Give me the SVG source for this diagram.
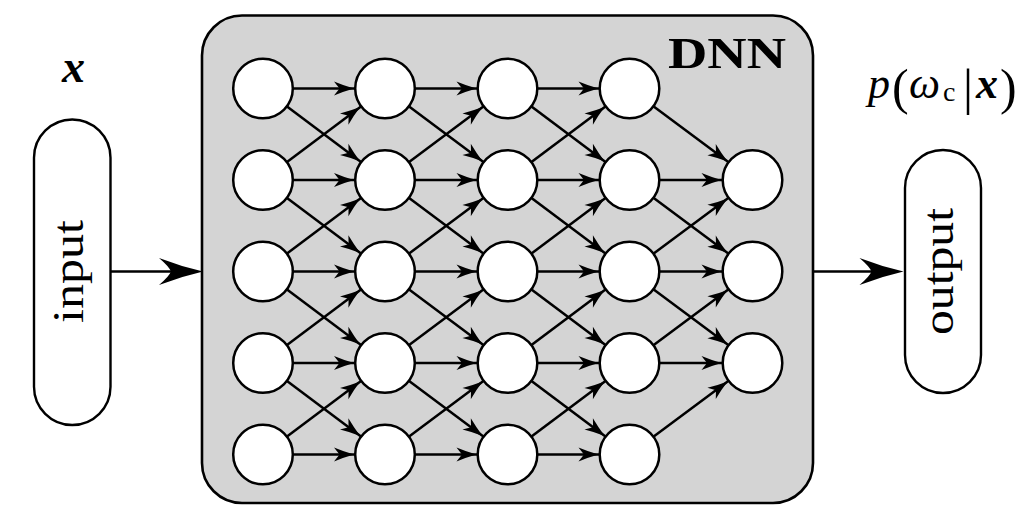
<svg xmlns="http://www.w3.org/2000/svg" width="1022" height="528" viewBox="0 0 1022 528">
<style>
.box{fill:#d4d4d4;stroke:#000;stroke-width:2.6}
.pill{fill:#fff;stroke:#000;stroke-width:2.4}
.n{fill:#fff;stroke:#000;stroke-width:2.5}
.e{stroke:#000;stroke-width:2.5;fill:none;marker-end:url(#sa)}
.big{stroke:#000;stroke-width:2.4;fill:none;marker-end:url(#ba)}
.t{font-family:"Liberation Serif","Times New Roman",serif;fill:#000}
</style>
<defs>
<marker id="sa" markerUnits="userSpaceOnUse" markerWidth="1" markerHeight="1" refX="31" refY="0" orient="auto" overflow="visible">
<path d="M0,0 Q-10,-2.8 -20,-7 L-14.5,0 L-20,7 Q-10,2.8 0,0 Z" fill="#000"/>
</marker>
<marker id="ba" markerUnits="userSpaceOnUse" markerWidth="1" markerHeight="1" refX="-6" refY="0" orient="auto" overflow="visible">
<path d="M0,0 Q-22,-5 -44,-13.5 Q-34,-5 -32,0 Q-34,5 -44,13.5 Q-22,5 0,0 Z" fill="#000"/>
</marker>
</defs>

<g id="dnn">
<rect class="box" x="202" y="15.5" width="611" height="487.5" rx="40" ry="40"/>
<text class="t" x="668" y="68" font-size="45" font-weight="bold" textLength="118" lengthAdjust="spacingAndGlyphs">DNN</text>
</g>

<g id="connectors">
<line class="big" x1="111" y1="271.5" x2="197" y2="271.5"/>
<line class="big" x1="813" y1="271.5" x2="897.5" y2="271.5"/>

<line class="e" x1="263" y1="88.5" x2="385" y2="88.5"/>
<line class="e" x1="263" y1="88.5" x2="385" y2="180"/>
<line class="e" x1="263" y1="180" x2="385" y2="88.5"/>
<line class="e" x1="263" y1="180" x2="385" y2="180"/>
<line class="e" x1="263" y1="180" x2="385" y2="271.5"/>
<line class="e" x1="263" y1="271.5" x2="385" y2="180"/>
<line class="e" x1="263" y1="271.5" x2="385" y2="271.5"/>
<line class="e" x1="263" y1="271.5" x2="385" y2="363"/>
<line class="e" x1="263" y1="363" x2="385" y2="271.5"/>
<line class="e" x1="263" y1="363" x2="385" y2="363"/>
<line class="e" x1="263" y1="363" x2="385" y2="454.5"/>
<line class="e" x1="263" y1="454.5" x2="385" y2="363"/>
<line class="e" x1="263" y1="454.5" x2="385" y2="454.5"/>

<line class="e" x1="385" y1="88.5" x2="507.5" y2="88.5"/>
<line class="e" x1="385" y1="88.5" x2="507.5" y2="180"/>
<line class="e" x1="385" y1="180" x2="507.5" y2="88.5"/>
<line class="e" x1="385" y1="180" x2="507.5" y2="180"/>
<line class="e" x1="385" y1="180" x2="507.5" y2="271.5"/>
<line class="e" x1="385" y1="271.5" x2="507.5" y2="180"/>
<line class="e" x1="385" y1="271.5" x2="507.5" y2="271.5"/>
<line class="e" x1="385" y1="271.5" x2="507.5" y2="363"/>
<line class="e" x1="385" y1="363" x2="507.5" y2="271.5"/>
<line class="e" x1="385" y1="363" x2="507.5" y2="363"/>
<line class="e" x1="385" y1="363" x2="507.5" y2="454.5"/>
<line class="e" x1="385" y1="454.5" x2="507.5" y2="363"/>
<line class="e" x1="385" y1="454.5" x2="507.5" y2="454.5"/>

<line class="e" x1="507.5" y1="88.5" x2="629.5" y2="88.5"/>
<line class="e" x1="507.5" y1="88.5" x2="629.5" y2="180"/>
<line class="e" x1="507.5" y1="180" x2="629.5" y2="88.5"/>
<line class="e" x1="507.5" y1="180" x2="629.5" y2="180"/>
<line class="e" x1="507.5" y1="180" x2="629.5" y2="271.5"/>
<line class="e" x1="507.5" y1="271.5" x2="629.5" y2="180"/>
<line class="e" x1="507.5" y1="271.5" x2="629.5" y2="271.5"/>
<line class="e" x1="507.5" y1="271.5" x2="629.5" y2="363"/>
<line class="e" x1="507.5" y1="363" x2="629.5" y2="271.5"/>
<line class="e" x1="507.5" y1="363" x2="629.5" y2="363"/>
<line class="e" x1="507.5" y1="363" x2="629.5" y2="454.5"/>
<line class="e" x1="507.5" y1="454.5" x2="629.5" y2="363"/>
<line class="e" x1="507.5" y1="454.5" x2="629.5" y2="454.5"/>

<line class="e" x1="629.5" y1="88.5" x2="752.5" y2="180"/>
<line class="e" x1="629.5" y1="180" x2="752.5" y2="180"/>
<line class="e" x1="629.5" y1="180" x2="752.5" y2="271.5"/>
<line class="e" x1="629.5" y1="271.5" x2="752.5" y2="180"/>
<line class="e" x1="629.5" y1="271.5" x2="752.5" y2="271.5"/>
<line class="e" x1="629.5" y1="271.5" x2="752.5" y2="363"/>
<line class="e" x1="629.5" y1="363" x2="752.5" y2="271.5"/>
<line class="e" x1="629.5" y1="363" x2="752.5" y2="363"/>
<line class="e" x1="629.5" y1="454.5" x2="752.5" y2="363"/>
</g>

<g id="n1_1"><circle class="n" cx="263" cy="88.5" r="29.8"/></g>
<g id="n1_2"><circle class="n" cx="263" cy="180" r="29.8"/></g>
<g id="n1_3"><circle class="n" cx="263" cy="271.5" r="29.8"/></g>
<g id="n1_4"><circle class="n" cx="263" cy="363" r="29.8"/></g>
<g id="n1_5"><circle class="n" cx="263" cy="454.5" r="29.8"/></g>
<g id="n2_1"><circle class="n" cx="385" cy="88.5" r="29.8"/></g>
<g id="n2_2"><circle class="n" cx="385" cy="180" r="29.8"/></g>
<g id="n2_3"><circle class="n" cx="385" cy="271.5" r="29.8"/></g>
<g id="n2_4"><circle class="n" cx="385" cy="363" r="29.8"/></g>
<g id="n2_5"><circle class="n" cx="385" cy="454.5" r="29.8"/></g>
<g id="n3_1"><circle class="n" cx="507.5" cy="88.5" r="29.8"/></g>
<g id="n3_2"><circle class="n" cx="507.5" cy="180" r="29.8"/></g>
<g id="n3_3"><circle class="n" cx="507.5" cy="271.5" r="29.8"/></g>
<g id="n3_4"><circle class="n" cx="507.5" cy="363" r="29.8"/></g>
<g id="n3_5"><circle class="n" cx="507.5" cy="454.5" r="29.8"/></g>
<g id="n4_1"><circle class="n" cx="629.5" cy="88.5" r="29.8"/></g>
<g id="n4_2"><circle class="n" cx="629.5" cy="180" r="29.8"/></g>
<g id="n4_3"><circle class="n" cx="629.5" cy="271.5" r="29.8"/></g>
<g id="n4_4"><circle class="n" cx="629.5" cy="363" r="29.8"/></g>
<g id="n4_5"><circle class="n" cx="629.5" cy="454.5" r="29.8"/></g>
<g id="n5_2"><circle class="n" cx="752.5" cy="180" r="29.8"/></g>
<g id="n5_3"><circle class="n" cx="752.5" cy="271.5" r="29.8"/></g>
<g id="n5_4"><circle class="n" cx="752.5" cy="363" r="29.8"/></g>

<g id="input">
<rect class="pill" x="34" y="119.5" width="76.5" height="305.5" rx="38.25" ry="38.25"/>
<text class="t" transform="translate(82.5,271.5) rotate(-90)" text-anchor="middle" font-size="44" textLength="103" lengthAdjust="spacingAndGlyphs">input</text>
<text class="t" x="73.5" y="82" text-anchor="middle" font-size="46" font-weight="bold" font-style="italic">x</text>
</g>

<g id="output">
<rect class="pill" x="905" y="150" width="76" height="243" rx="38" ry="38"/>
<text class="t" transform="translate(953,271.5) rotate(-90)" text-anchor="middle" font-size="44" textLength="127" lengthAdjust="spacingAndGlyphs">output</text>
<text class="t" font-size="44">
<tspan x="868" y="98" font-style="italic">p</tspan><tspan x="892" y="104" font-size="50">(</tspan><tspan x="909" y="98" font-style="italic">ω</tspan><tspan x="943" y="101" font-size="28">c</tspan><tspan x="963" y="104" font-size="50">|</tspan><tspan x="976" y="98" font-style="italic" font-weight="bold">x</tspan><tspan x="1000" y="104" font-size="50">)</tspan>
</text>
</g>
</svg>
